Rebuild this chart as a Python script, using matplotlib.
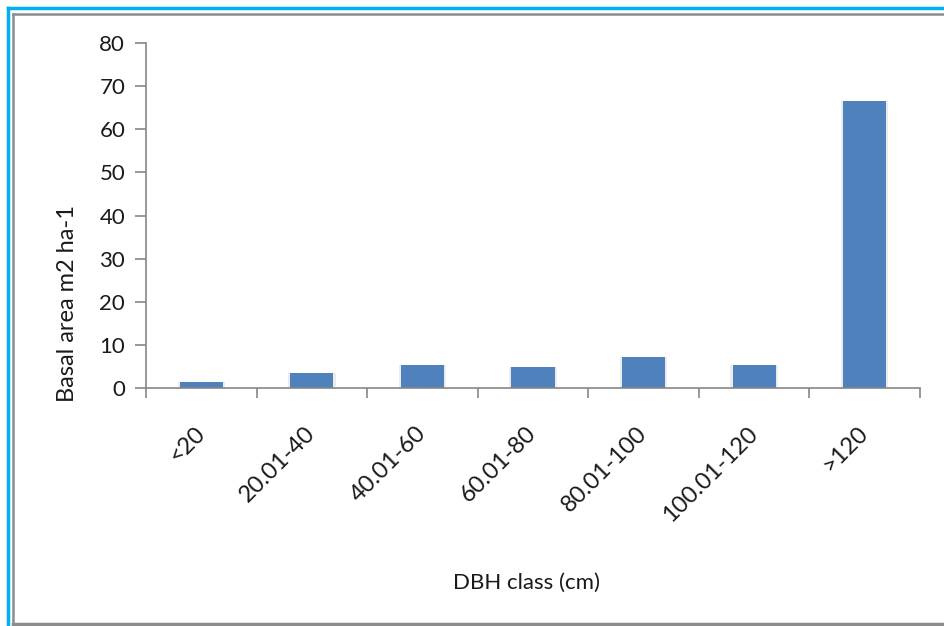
import matplotlib.pyplot as plt
from matplotlib.lines import Line2D

plt.rcParams['font.family'] = ['Lato', 'DejaVu Sans']

# Basal area per diameter class
classes = ['<20', '20.01-40', '40.01-60', '60.01-80', '80.01-100', '100.01-120', '>120']
basal_area = [1.6, 3.5, 5.4, 4.9, 7.4, 5.4, 66.6]
y_ticks = [0, 10, 20, 30, 40, 50, 60, 70, 80]

fig = plt.figure(figsize=(9.45, 6.26), dpi=100)
ax = fig.add_axes([0.1545, 0.3794, 0.819, 0.5524])

x = list(range(len(classes)))
# soft grey halo behind the bars
ax.bar(x, basal_area, width=0.43, color='#ececec', zorder=1)
ax.bar(x, basal_area, width=0.39, color='#4f81bd', zorder=2)

ax.set_xlim(-0.5, len(classes) - 0.5)
ax.set_ylim(0, 80)
ax.set_yticks(y_ticks)
ax.set_xticks(x)
ax.set_xticklabels(classes, rotation=45, ha='right', va='center',
                   rotation_mode='anchor', fontsize=17, color='#1a1a1a')
ax.set_xticks([i - 0.5 for i in range(len(classes) + 1)], minor=True)
ax.tick_params(axis='x', which='major', length=0, pad=30)
ax.tick_params(axis='x', which='minor', length=7, width=1.2, color='#868686')
ax.tick_params(axis='y', length=8, width=1.2, color='#868686',
               labelsize=16, labelcolor='#1a1a1a', pad=7)

for side in ['top', 'right']:
    ax.spines[side].set_visible(False)
for side in ['left', 'bottom']:
    ax.spines[side].set_color('#868686')
    ax.spines[side].set_linewidth(1.2)

ax.set_ylabel('Basal area m2 ha-1', fontsize=17, color='#1a1a1a')
ax.yaxis.set_label_coords(-0.088, 0.245)
ax.set_xlabel('DBH class (cm)', fontsize=16, color='#1a1a1a')
ax.xaxis.set_label_coords(0.492, -0.534)

# frame around the chart
W, H = 945, 626
fig.add_artist(Line2D([8.5 / W, 8.5 / W], [0, 1 - 8 / H], color='#00b0f0', lw=2.5))
fig.add_artist(Line2D([8.5 / W, 1], [1 - 8 / H, 1 - 8 / H], color='#00b0f0', lw=2.5))
fig.add_artist(Line2D([13.5 / W, 13.5 / W], [0, 1 - 13.5 / H], color='#8c8c8c', lw=1.8))
fig.add_artist(Line2D([13.5 / W, 1], [1 - 13.5 / H, 1 - 13.5 / H], color='#8c8c8c', lw=1.8))
fig.add_artist(Line2D([13.5 / W, 1], [2.5 / H, 2.5 / H], color='#8c8c8c', lw=2.5))

fig.savefig('out.png', dpi=100)
